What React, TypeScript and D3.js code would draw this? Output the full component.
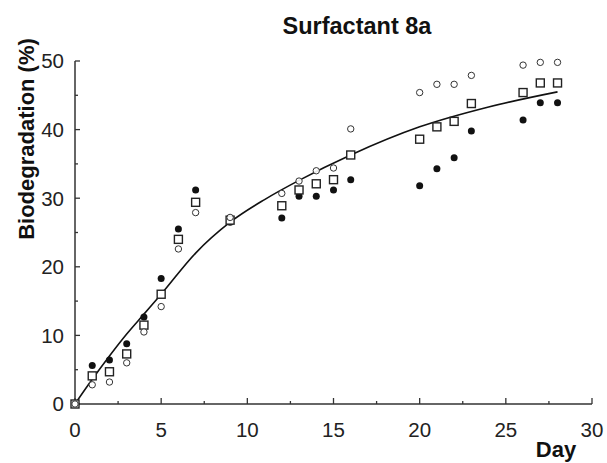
import React from "react";
import * as d3 from "d3";

const days = [0, 1, 2, 3, 4, 5, 6, 7, 9, 12, 13, 14, 15, 16, 20, 21, 22, 23, 26, 27, 28];
const openCircle = [0, 2.8, 3.2, 6.0, 10.5, 14.2, 22.6, 27.9, 27.2, 30.7, 32.5, 34.0, 34.4, 40.1, 45.4, 46.6, 46.6, 47.9, 49.4, 49.8, 49.8];
const square = [0, 4.1, 4.7, 7.3, 11.5, 16.0, 24.0, 29.4, 26.8, 28.9, 31.2, 32.1, 32.7, 36.3, 38.6, 40.4, 41.2, 43.8, 45.4, 46.8, 46.8];
const filled = [0, 5.6, 6.4, 8.8, 12.7, 18.3, 25.5, 31.2, 26.5, 27.1, 30.3, 30.3, 31.2, 32.7, 31.8, 34.3, 35.9, 39.8, 41.4, 43.9, 43.9];

const fitDays = [0, 1, 2, 3, 4, 5, 7, 9, 11, 13, 16, 20, 24, 28];
const fitValues = [0, 3.6, 7.0, 10.2, 13.1, 16.0, 22.0, 26.5, 29.8, 32.6, 36.3, 40.4, 43.3, 45.5];

const xMajor = [0, 5, 10, 15, 20, 25, 30];
const xMinor = [2.5, 7.5, 12.5, 17.5, 22.5, 27.5];
const yMajor = [0, 10, 20, 30, 40, 50];
const yMinor = [5, 15, 25, 35, 45];

const title = "Surfactant 8a";
const xTitle = "Day";
const yTitle = "Biodegradation (%)";

export default function App() {
  const W = 607, H = 463;
  const x = d3.scaleLinear().domain([0, 30]).range([75, 592]);
  const y = d3.scaleLinear().domain([0, 50]).range([404, 61]);
  const font = "'Liberation Sans', Arial, sans-serif";
  const axisColor = "#333";
  const line = d3
    .line<number>()
    .x((_, i) => x(fitDays[i]))
    .y((v) => y(v))
    .curve(d3.curveMonotoneX);

  return (
    <svg width={W} height={H} style={{ position: "absolute", left: 0, top: 0, background: "#fff" }} fontFamily={font}>
      <text x={357} y={34} textAnchor="middle" fontWeight="bold" fontSize={23.5} fill="#111">{title}</text>
      {/* axes */}
      <line x1={x(0)} x2={x(30)} y1={y(0)} y2={y(0)} stroke={axisColor} strokeWidth={1.5} />
      <line x1={x(0)} x2={x(0)} y1={y(0)} y2={y(50)} stroke={axisColor} strokeWidth={1.5} />
      {xMajor.map((t) => (
        <g key={"xm" + t}>
          <line x1={x(t)} x2={x(t)} y1={y(0)} y2={y(0) - 6} stroke={axisColor} strokeWidth={1.3} />
          <text x={x(t)} y={437} textAnchor="middle" fontSize={20.5} fill="#222">{t}</text>
        </g>
      ))}
      {xMinor.map((t) => (
        <line key={"xn" + t} x1={x(t)} x2={x(t)} y1={y(0)} y2={y(0) - 3} stroke={axisColor} strokeWidth={1.3} />
      ))}
      {yMajor.map((t) => (
        <g key={"ym" + t}>
          <line x1={x(0)} x2={x(0) + 5} y1={y(t)} y2={y(t)} stroke={axisColor} strokeWidth={1.3} />
          <text x={64} y={y(t)} dy="0.36em" textAnchor="end" fontSize={20.5} fill="#222">{t}</text>
        </g>
      ))}
      {yMinor.map((t) => (
        <line key={"yn" + t} x1={x(0)} x2={x(0) + 3} y1={y(t)} y2={y(t)} stroke={axisColor} strokeWidth={1.3} />
      ))}
      <text x={556} y={457} textAnchor="middle" fontWeight="bold" fontSize={22} fill="#111">{xTitle}</text>
      <text transform={`translate(34,139) rotate(-90)`} textAnchor="middle" fontWeight="bold" fontSize={22} fill="#111">{yTitle}</text>
      {/* fit */}
      <path d={line(fitValues) || ""} fill="none" stroke="#111" strokeWidth={1.6} />
      {/* markers */}
      {days.map((d, i) => (
        <circle key={"f" + i} cx={x(d)} cy={y(filled[i])} r={3.5} fill="#111" />
      ))}
      {days.map((d, i) => (
        <rect key={"s" + i} x={x(d) - 4} y={y(square[i]) - 4} width={8} height={8} fill="#fff" stroke="#222" strokeWidth={1.4} />
      ))}
      {days.map((d, i) => (
        <circle key={"o" + i} cx={x(d)} cy={y(openCircle[i])} r={3.2} fill="#fff" fillOpacity={0.9} stroke="#333" strokeWidth={1} />
      ))}
    </svg>
  );
}
